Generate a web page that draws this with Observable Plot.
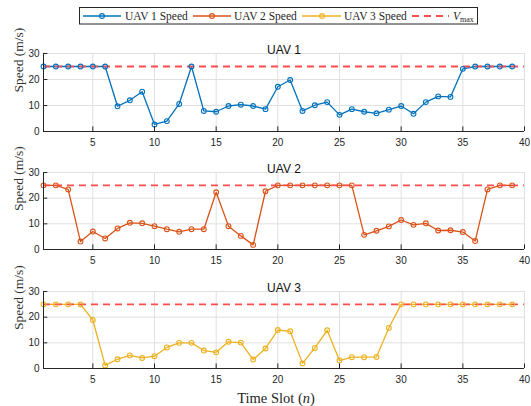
<!DOCTYPE html>
<html><head><meta charset="utf-8">
<script src="https://cdn.jsdelivr.net/npm/d3@7"></script>
<script src="https://cdn.jsdelivr.net/npm/@observablehq/plot@0.6"></script>
<style>
body{margin:0;background:#fff;}
#wrap{position:relative;width:531px;height:406px;overflow:hidden;background:#fff;}
.panel{position:absolute;left:0;}
.panel svg{overflow:visible;}
#legend{position:absolute;left:79px;top:7px;}
#xlabel{position:absolute;left:0;width:552px;top:390px;text-align:center;font-family:"Liberation Serif","Times New Roman",serif;font-size:14.5px;color:#262626;}
</style>
</head><body>
<div id="wrap">
  <div id="legend"></div>
  <div id="p1" class="panel" style="top:33px"></div>
  <div id="p2" class="panel" style="top:152px"></div>
  <div id="p3" class="panel" style="top:271px"></div>
  <div id="xlabel">Time Slot (<i>n</i>)</div>
</div>
<script>
const slots = [1,2,3,4,5,6,7,8,9,10,11,12,13,14,15,16,17,18,19,20,21,22,23,24,25,26,27,28,29,30,31,32,33,34,35,36,37,38,39];
const uav1 = [25,25,25,25,25,25,9.7,12,15.3,2.7,4.0,10.6,25,7.9,7.6,9.8,10.3,9.8,8.6,17.2,19.8,7.9,10.1,11.3,6.4,8.6,7.6,7.0,8.4,9.8,6.8,11.3,13.5,13.3,24.1,25,25,25,25];
const uav2 = [25,25,23.4,3.1,7.0,4.3,8.2,10.4,10.2,9.1,7.9,6.9,7.9,7.9,22.3,9.1,5.3,1.8,22.7,25,25,25,25,25,25,25,5.7,7.3,9.0,11.5,9.6,10.2,7.4,7.5,6.8,3.3,23.4,25,25];
const uav3 = [25,25,25,25,18.9,1.2,3.6,5.1,4.1,4.8,8.2,10.0,10.0,7.0,6.3,10.4,10.1,3.5,7.8,15.0,14.5,2.0,8.0,14.9,3.1,4.4,4.4,4.5,15.8,25,25,25,25,25,25,25,25,25,25];
const vmax = 25;
const xTicks = [5,10,15,20,25,30,35,40];
const yTicks = [0,10,20,30];
const titles = ["UAV 1","UAV 2","UAV 3"];
const seriesNames = ["UAV 1 Speed","UAV 2 Speed","UAV 3 Speed"];
const colors = ["#0072BD","#D95319","#EDB120"];
const vColor = "#ff4d4d";
const ink = "#262626";
const gridColor = "#e0e0e0";

function panel(values, color, title, areaH) {
  const data = slots.map((s, i) => ({slot: s, speed: values[i]}));
  const mt = 20, mb = 18;
  return Plot.plot({
    width: 531, height: mt + areaH + mb,
    marginLeft: 43, marginRight: 7, marginTop: mt, marginBottom: mb,
    x: {domain: [1, 40]},
    y: {domain: [0, 30]},
    style: {fontFamily: "'Liberation Sans', Arial, sans-serif", fontSize: "10px", color: ink, background: "transparent", overflow: "visible"},
    marks: [
      Plot.gridX(xTicks, {stroke: gridColor, strokeOpacity: 1}),
      Plot.gridY(yTicks, {stroke: gridColor, strokeOpacity: 1}),
      Plot.line(data, {x: "slot", y: "speed", stroke: color, strokeWidth: 1.3}),
      Plot.ruleY([vmax], {x1: 1, x2: 40, stroke: vColor, strokeWidth: 1.8, strokeDasharray: "7,5"}),
      Plot.dot(data, {x: "slot", y: "speed", r: 2.4, stroke: color, strokeWidth: 1.1, fill: "none"}),
      Plot.ruleY([0], {stroke: ink, strokeWidth: 1}),
      Plot.ruleX([1], {stroke: ink, strokeWidth: 1}),
      Plot.ruleX(xTicks, {y1: 0, y2: 1.8, stroke: ink}),
      Plot.ruleY(yTicks, {x1: 1, x2: 1.35, stroke: ink}),
      Plot.axisX(xTicks, {tickSize: 0, tickPadding: 7, label: null, fill: ink}),
      Plot.axisY(yTicks, {tickSize: 0, tickPadding: 4, label: null, fill: ink}),
      Plot.text([title], {frameAnchor: "top", dy: -8, fontWeight: "normal", fontSize: 12, fill: "#111"}),
      Plot.text(["Speed (m/s)"], {frameAnchor: "left", dx: -25, rotate: -90, fontFamily: "'Liberation Serif', 'Times New Roman', serif", fontSize: 13.5, fill: "#333"})
    ]
  });
}

document.getElementById("p1").append(panel(uav1, colors[0], titles[0], 78));
document.getElementById("p2").append(panel(uav2, colors[1], titles[1], 77));
document.getElementById("p3").append(panel(uav3, colors[2], titles[2], 77));

// legend
const ns = "http://www.w3.org/2000/svg";
const lg = `
<svg xmlns="${ns}" width="400" height="18" style="display:block">
  <rect x="0.5" y="0.5" width="398" height="16.5" fill="#fff" stroke="${ink}" stroke-width="1"/>
  <g font-family="'Liberation Serif','Times New Roman',serif" font-size="11.5" fill="${ink}">
    <line x1="4" x2="42" y1="9" y2="9" stroke="${colors[0]}" stroke-width="1.3"/>
    <circle cx="23" cy="9" r="2.4" fill="none" stroke="${colors[0]}" stroke-width="1.1"/>
    <text x="46" y="12.5">${seriesNames[0]}</text>
    <line x1="114" x2="152" y1="9" y2="9" stroke="${colors[1]}" stroke-width="1.3"/>
    <circle cx="133" cy="9" r="2.4" fill="none" stroke="${colors[1]}" stroke-width="1.1"/>
    <text x="155" y="12.5">${seriesNames[1]}</text>
    <line x1="223" x2="262" y1="9" y2="9" stroke="${colors[2]}" stroke-width="1.3"/>
    <circle cx="243" cy="9" r="2.4" fill="none" stroke="${colors[2]}" stroke-width="1.1"/>
    <text x="265" y="12.5">${seriesNames[2]}</text>
    <line x1="333" x2="370" y1="9" y2="9" stroke="${vColor}" stroke-width="1.8" stroke-dasharray="7,5"/>
    <text x="374" y="12.5"><tspan font-style="italic">V</tspan><tspan font-size="8" dy="2">max</tspan></text>
  </g>
</svg>`;
document.getElementById("legend").innerHTML = lg;
</script>
</body></html>
